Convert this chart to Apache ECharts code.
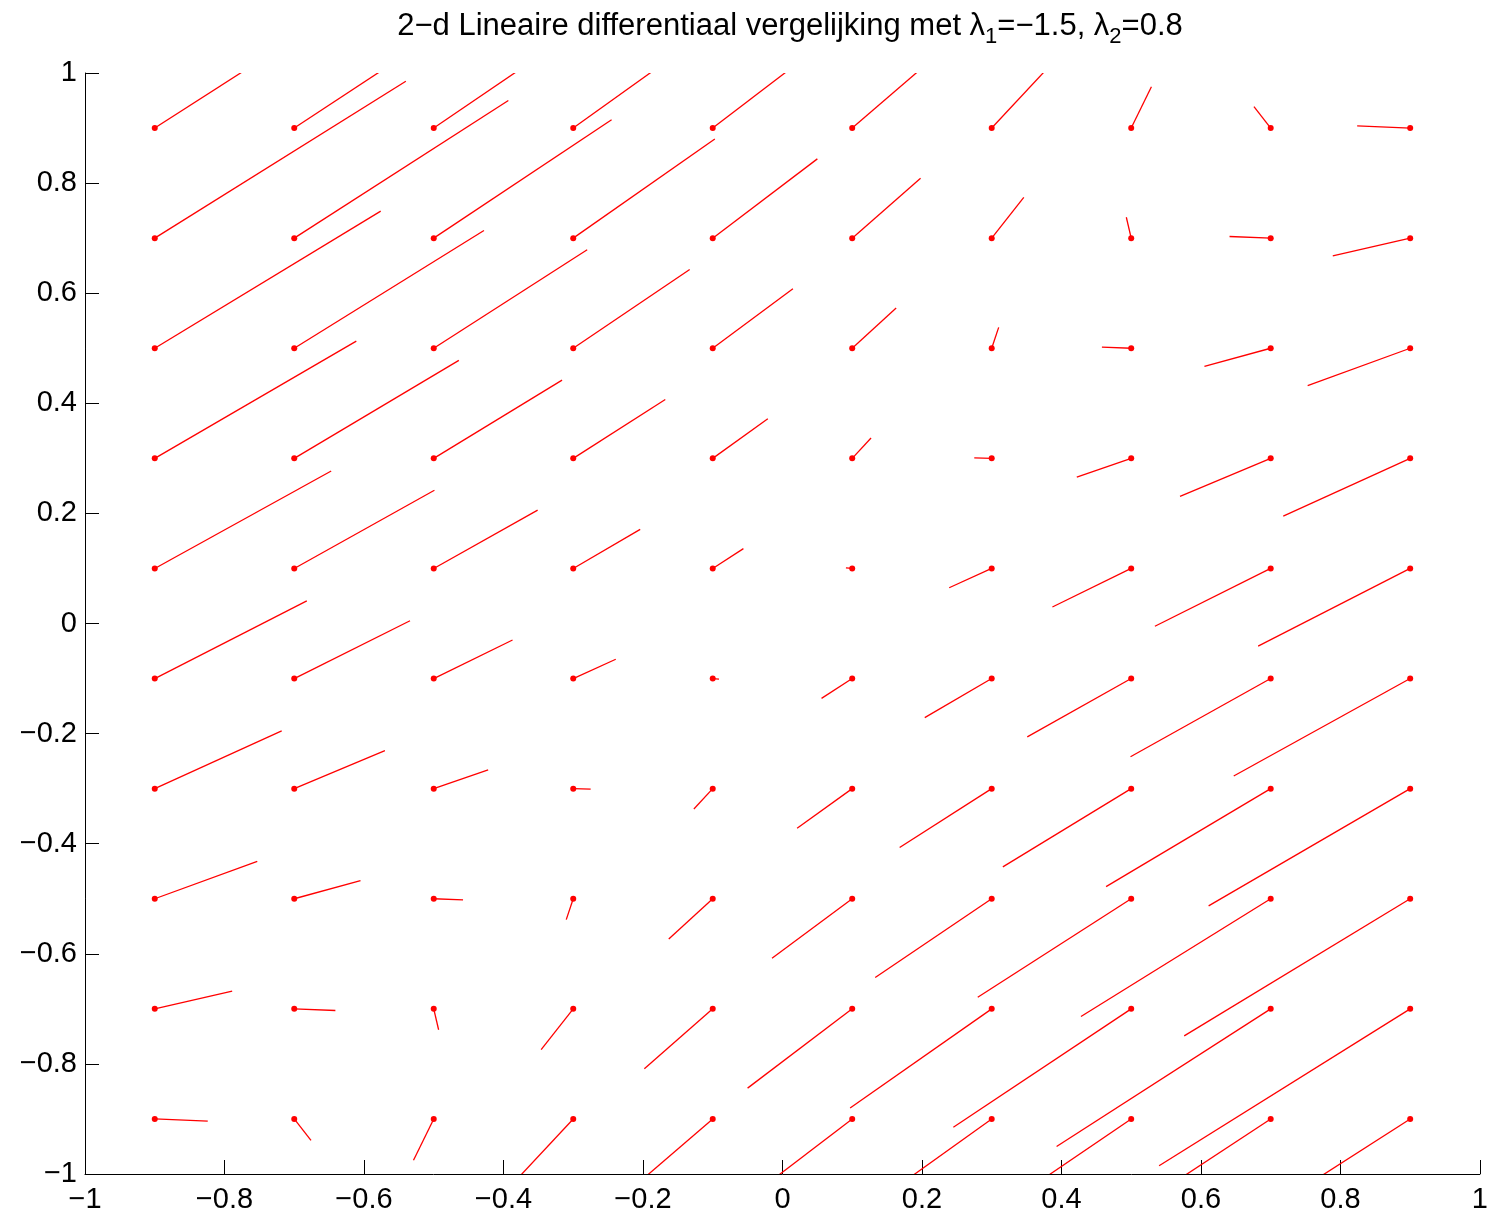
<!DOCTYPE html>
<html>
<head>
<meta charset="utf-8">
<title>2-d Lineaire differentiaal vergelijking</title>
<script src="https://cdn.jsdelivr.net/npm/echarts@6/dist/echarts.min.js"></script>
<style>
  html, body { margin: 0; padding: 0; background: #ffffff; }
  #chart { width: 1491px; height: 1219px; }
</style>
</head>
<body>
<div id="chart"></div>
<script>
// Grid of starting points
const xs = [-0.9, -0.7, -0.5, -0.3, -0.1, 0.1, 0.3, 0.5, 0.7, 0.9];
const ys = [-0.9, -0.7, -0.5, -0.3, -0.1, 0.1, 0.3, 0.5, 0.7, 0.9];

// Horizontal displacement of each arrow; one row per y value (bottom to top), one column per x value
const U = [
  [ 0.076,  0.024, -0.029, -0.081, -0.133, -0.186, -0.238, -0.291, -0.343, -0.395],
  [ 0.111,  0.059,  0.007, -0.046, -0.098, -0.150, -0.203, -0.255, -0.307, -0.360],
  [ 0.147,  0.095,  0.042, -0.010, -0.063, -0.115, -0.167, -0.220, -0.272, -0.324],
  [ 0.182,  0.130,  0.078,  0.025, -0.027, -0.079, -0.132, -0.184, -0.236, -0.289],
  [ 0.218,  0.166,  0.113,  0.061,  0.009, -0.044, -0.096, -0.149, -0.201, -0.253],
  [ 0.253,  0.201,  0.149,  0.096,  0.044, -0.009, -0.061, -0.113, -0.166, -0.218],
  [ 0.289,  0.236,  0.184,  0.132,  0.079,  0.027, -0.025, -0.078, -0.130, -0.182],
  [ 0.324,  0.272,  0.220,  0.167,  0.115,  0.063,  0.010, -0.042, -0.095, -0.147],
  [ 0.360,  0.307,  0.255,  0.203,  0.150,  0.098,  0.046, -0.007, -0.059, -0.111],
  [ 0.395,  0.343,  0.291,  0.238,  0.186,  0.133,  0.081,  0.029, -0.024, -0.076]
];

// Vertical displacement of each arrow, same layout as U
const V = [
  [-0.004, -0.039, -0.075, -0.110, -0.145, -0.180, -0.216, -0.251, -0.286, -0.321],
  [ 0.032, -0.003, -0.038, -0.074, -0.109, -0.144, -0.180, -0.215, -0.250, -0.285],
  [ 0.068,  0.033, -0.002, -0.038, -0.073, -0.108, -0.143, -0.179, -0.214, -0.249],
  [ 0.105,  0.069,  0.034, -0.001, -0.037, -0.072, -0.107, -0.142, -0.178, -0.213],
  [ 0.141,  0.105,  0.070,  0.035, -0.001, -0.036, -0.071, -0.106, -0.142, -0.177],
  [ 0.177,  0.142,  0.106,  0.071,  0.036,  0.001, -0.035, -0.070, -0.105, -0.141],
  [ 0.213,  0.178,  0.142,  0.107,  0.072,  0.037,  0.001, -0.034, -0.069, -0.105],
  [ 0.249,  0.214,  0.179,  0.143,  0.108,  0.073,  0.038,  0.002, -0.033, -0.068],
  [ 0.285,  0.250,  0.215,  0.180,  0.144,  0.109,  0.074,  0.038,  0.003, -0.032],
  [ 0.321,  0.286,  0.251,  0.216,  0.180,  0.145,  0.110,  0.075,  0.039,  0.004]
];

// Tick labels shared by both axes
const tickLabels = ['\u22121', '\u22120.8', '\u22120.6', '\u22120.4', '\u22120.2', '0', '0.2', '0.4', '0.6', '0.8', '1'];

const FONT = '"Liberation Sans", Arial, Helvetica, sans-serif';
const RED = '#ff0000';

const fieldData = [];
for (let j = 0; j < ys.length; j++) {
  for (let i = 0; i < xs.length; i++) {
    fieldData.push([xs[i], ys[j], U[j][i], V[j][i]]);
  }
}

function tickFormatter(value) {
  const idx = Math.round((value + 1) / 0.2);
  return tickLabels[idx] !== undefined ? tickLabels[idx] : '';
}

function axisCommon(margin) {
  return {
    type: 'value',
    min: -1,
    max: 1,
    interval: 0.2,
    axisLine: { show: true, onZero: false, lineStyle: { color: '#000', width: 1 } },
    axisTick: { show: true, inside: true, length: 14, lineStyle: { color: '#000', width: 1 } },
    axisLabel: {
      show: true, color: '#000', fontFamily: FONT, fontSize: 29, margin: margin,
      formatter: tickFormatter, showMinLabel: true, showMaxLabel: true
    },
    splitLine: { show: false }
  };
}

const chart = echarts.init(document.getElementById('chart'), null, { renderer: 'canvas' });

chart.setOption({
  animation: false,
  backgroundColor: '#ffffff',
  title: {
    text: '2\u2212d Lineaire differentiaal vergelijking met \u03bb{sub|1}=\u22121.5, \u03bb{sub|2}=0.8',
    left: 785,
    textAlign: 'center',
    top: -1,
    textStyle: {
      color: '#000', fontFamily: FONT, fontSize: 31, fontWeight: 'normal',
      rich: {
        sub: { fontFamily: FONT, fontSize: 22, color: '#000', padding: [22, 0, 0, 0] }
      }
    }
  },
  grid: { left: 85, right: 10, top: 73, bottom: 45, containLabel: false },
  xAxis: Object.assign(axisCommon(11), { position: 'bottom' }),
  yAxis: Object.assign(axisCommon(8), { position: 'left' }),
  series: [{
    type: 'custom',
    coordinateSystem: 'cartesian2d',
    clip: true,
    encode: { x: 0, y: 1 },
    data: fieldData,
    renderItem: function (params, api) {
      const x = api.value(0), y = api.value(1);
      const u = api.value(2), v = api.value(3);
      const p0 = api.coord([x, y]);
      const p1 = api.coord([x + u, y + v]);
      return {
        type: 'group',
        children: [
          { type: 'line', shape: { x1: p0[0], y1: p0[1], x2: p1[0], y2: p1[1] },
            style: { stroke: RED, lineWidth: 1.3 } },
          { type: 'circle', shape: { cx: p0[0], cy: p0[1], r: 3 },
            style: { fill: RED } }
        ]
      };
    }
  }]
});
</script>
</body>
</html>
